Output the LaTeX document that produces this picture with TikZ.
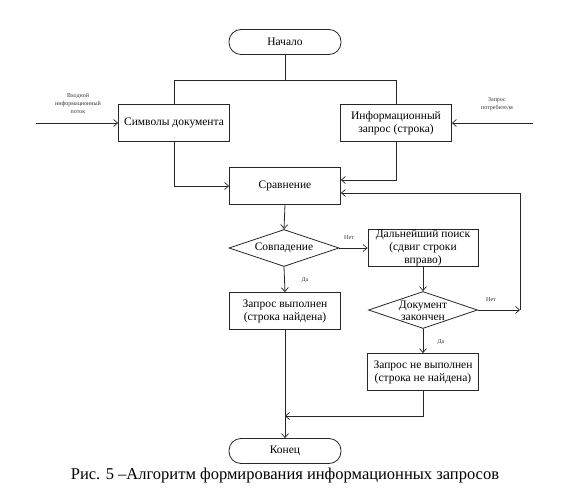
\documentclass[tikz,border=0pt]{standalone}
\usepackage{fontspec}
\setmainfont{Liberation Serif}
\usetikzlibrary{arrows.meta,shapes.geometric,calc}
\begin{document}
\begin{tikzpicture}[x=1pt,y=-1pt,
  line width=0.8pt,
  ln/.style={draw=black!85},
  arr/.style={draw=black!85,-{Straight Barb[length=4pt,width=7pt,line width=0.7pt]}},
  box/.style={draw=black!85,fill=white,rectangle,minimum width=111pt,minimum height=37pt,inner sep=0pt,align=center,font=\rmfamily\fontsize{11.5}{13}\selectfont},
  pill/.style={draw=black!85,fill=white,rectangle,rounded corners=12pt,minimum width=112pt,minimum height=25pt,inner sep=0pt,font=\rmfamily\fontsize{11.5}{13}\selectfont},
  dia/.style={draw=black!85,fill=white,diamond,minimum width=110pt,minimum height=37pt,inner sep=0pt},
  txt/.style={align=center,inner sep=0pt,font=\rmfamily\fontsize{11.5}{12}\selectfont},
  small/.style={align=center,inner sep=0pt,text=black!80,font=\rmfamily\fontsize{6}{8}\selectfont}]
\useasboundingbox (0,0) rectangle (571,495);

\node[pill] (start) at (285,42) {Начало};
\node[box] (sym) at (174,123) {Символы документа};
\node[box] (info) at (396,123) {Информационный\\запрос (строка)};
\node[box] (cmp) at (285,186) {Сравнение};
\node[dia] (d1) at (284,248) {};
\node[txt] (d1t) at (d1) {Совпадение};
\node[box,minimum width=110pt] (search) at (423,248) {};
\node[txt,font=\rmfamily\fontsize{11.5}{13}\selectfont] (searcht) at (423,248) {Дальнейший поиск\\(сдвиг строки\\вправо)};
\node[dia,minimum width=109pt] (d2) at (423,310) {};
\node[txt] (d2t) at (423,310.5) {Документ\\закончен};
\node[box] (ok) at (285,311) {Запрос выполнен\\(строка найдена)};
\node[box] (fail) at (423,372) {Запрос не выполнен\\(строка не найдена)};
\node[pill] (end) at (285,451) {Конец};

\node[small] (lblL) at (78,103.5) {Входной\\информационный\\поток};
\node[small] (lblR) at (497,104.5) {Запрос\\потребителя};
\node[small] (no1) at (349,238) {Нет};
\node[small] (yes1) at (305,280) {Да};
\node[small] (yes2) at (441,342) {Да};
\node[small] (no2) at (491,300) {Нет};

\node[font=\rmfamily\fontsize{16.5}{19}\selectfont,inner sep=0pt] (cap) at (285,476) {Рис. 5 –Алгоритм формирования информационных запросов};

\coordinate (tl) at (174,80);
\coordinate (tr) at (396,80);
\coordinate (inL) at (36,123);
\coordinate (inR) at (533,123);
\coordinate (fbB) at (520,310);
\coordinate (fbT) at (520,193);
\coordinate (jb) at (285,416);

\draw[ln] (start.south) -- (start.south |- tl);
\draw[ln] (sym.north) -- (tl) -- (tr) -- (info.north);
\draw[arr] (inL) -- (sym.west);
\draw[arr] (inR) -- (info.east);
\draw[arr] (sym.south) |- (cmp.west);
\draw[arr] (info.south) |- ($(cmp.east)+(0,-6)$);
\draw[arr] (fbB) -- (fbT) -- ($(cmp.east)+(0,7)$);
\draw[arr] (cmp.south) -- (d1.north);
\draw[arr] (d1.east) -- (search.west);
\draw[arr] (d1.south) -- (ok.north);
\draw[arr] (search.south) -- (d2.north);
\draw[arr] (d2.east) -- (fbB);
\draw[arr] (d2.south) -- (fail.north);
\draw[arr] (ok.south) -- (end.north);
\draw[arr] (fail.south) |- (jb);
\end{tikzpicture}
\end{document}
